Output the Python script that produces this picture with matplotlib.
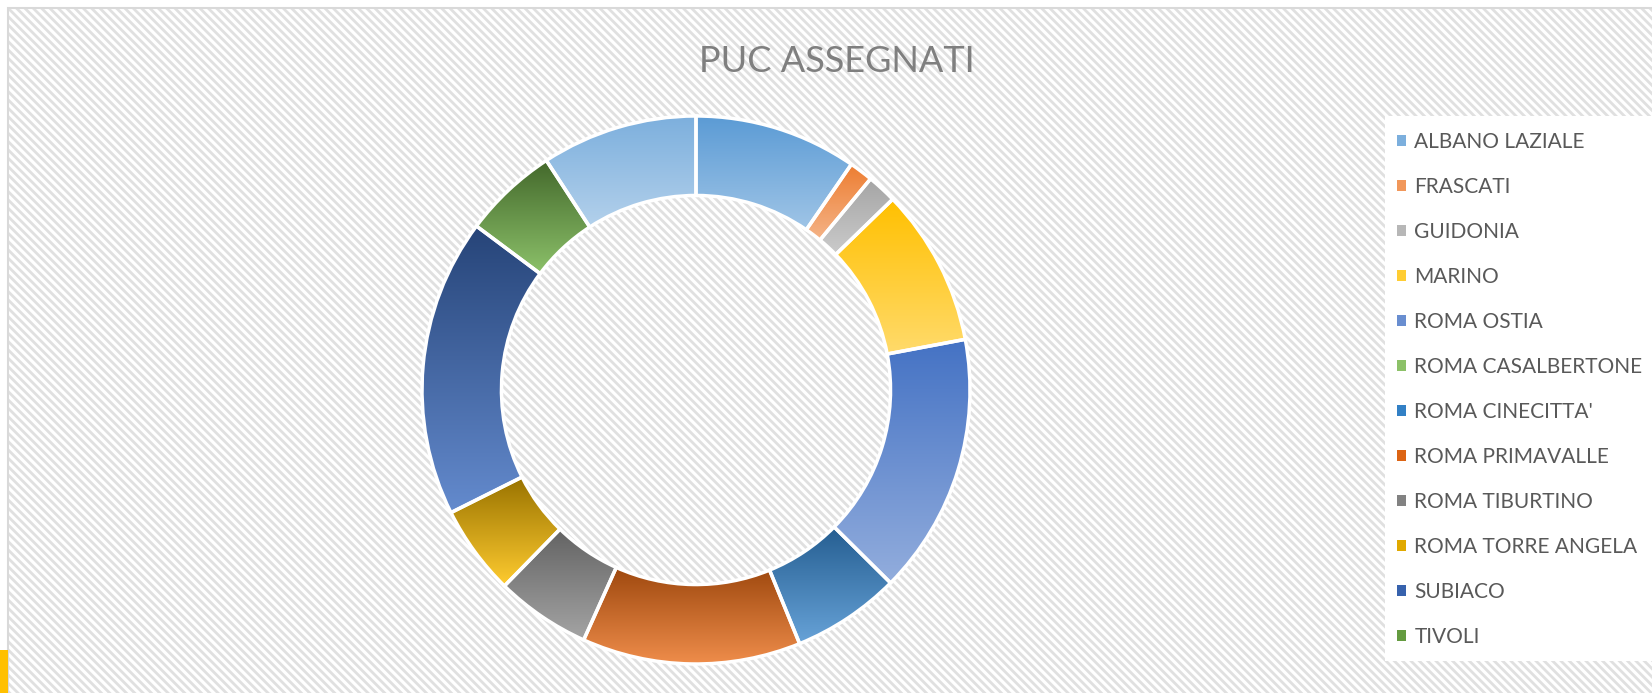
import colorsys
import matplotlib
matplotlib.use('Agg')
import matplotlib.pyplot as plt
import matplotlib.colors as mcolors
from matplotlib.patches import Rectangle, Patch
import numpy as np

plt.rcParams['font.family'] = ['Lato', 'DejaVu Sans']
plt.rcParams['hatch.linewidth'] = 2.0

sedi = ['ALBANO LAZIALE', 'FRASCATI', 'GUIDONIA', 'MARINO', 'ROMA OSTIA',
        'ROMA CASALBERTONE', "ROMA CINECITTA'", 'ROMA PRIMAVALLE',
        'ROMA TIBURTINO', 'ROMA TORRE ANGELA', 'SUBIACO', 'TIVOLI', '']
puc = [9.6, 1.4, 1.75, 9.3, 15.4, 0, 6.4, 12.9, 5.6, 5.3, 17.6, 5.6, 9.2]
colori = ['#5B9BD5', '#ED7D31', '#A5A5A5', '#FFC000', '#4472C4', '#70AD47',
          '#255E91', '#9E480E', '#636363', '#997300', '#264478', '#43682B',
          '#7CAFDD']

W, H = 1652, 693
fig = plt.figure(figsize=(W / 100, H / 100), dpi=100)
fig.patch.set_facecolor('white')

# sfondo a righe diagonali
bg = fig.add_axes([0, 0, 1, 1], zorder=-1)
bg.set_xlim(0, W)
bg.set_ylim(0, H)
bg.axis('off')
bg.add_patch(Rectangle((8, -5), W, H - 3, facecolor='white', edgecolor='#E0E0E0',
                       hatch='\\\\\\\\', linewidth=0))
bg.add_patch(Rectangle((8, -5), W, H - 3, facecolor='none', edgecolor='#D9D9D9',
                       linewidth=1.5))
bg.add_patch(Rectangle((0, 0), 8, 43, facecolor='#FFC000', linewidth=0))
bg.add_patch(Rectangle((1385, 32), 270, 545, facecolor='white', linewidth=0))


def schiarisci(c, f):
    r, g, b = mcolors.to_rgb(c)
    h, l, s = colorsys.rgb_to_hls(r, g, b)
    return colorsys.hls_to_rgb(h, l + (1 - l) * f, s)


R = 274
ax = fig.add_axes([(696 - 300) / W, (303 - 300) / H, 600 / W, 600 / H])
wedges, _ = ax.pie(puc, colors=colori, startangle=90, counterclock=False,
                   wedgeprops=dict(width=0.29, edgecolor='white', linewidth=2.5))
for w, c, v in zip(wedges, colori, puc):
    if v == 0:
        continue
    ext = w.get_path().get_extents()
    top = np.array(mcolors.to_rgb(c))
    bot = np.array(schiarisci(c, 0.42))
    t = np.linspace(0, 1, 256)[:, None]
    grad = (top * (1 - t) + bot * t)[:, None, :]
    im = ax.imshow(grad, extent=(ext.x0, ext.x1, ext.y0, ext.y1), origin='upper',
                   aspect='auto', interpolation='bilinear', zorder=2)
    im.set_clip_path(w)
    w.set_facecolor('none')
    w.set_zorder(3)
ax.set_xlim(-300 / R, 300 / R)
ax.set_ylim(-300 / R, 300 / R)
ax.axis('off')

fig.text(837 / W, 1 - 61 / H, 'PUC ASSEGNATI', ha='center', va='center',
         fontsize=26, color='#7F7F7F')

handles = [Patch(facecolor=schiarisci(c, 0.2), edgecolor='none') for c in colori[:12]]
fig.legend(handles, sedi[:12], loc='upper left', bbox_to_anchor=(1397 / W, 1 - 132 / H),
           frameon=False, fontsize=15, labelcolor='#595959', borderpad=0,
           borderaxespad=0, handlelength=0.43, handleheight=0.43,
           handletextpad=0.4, labelspacing=1.2)

fig.savefig('out.png', dpi=100)
